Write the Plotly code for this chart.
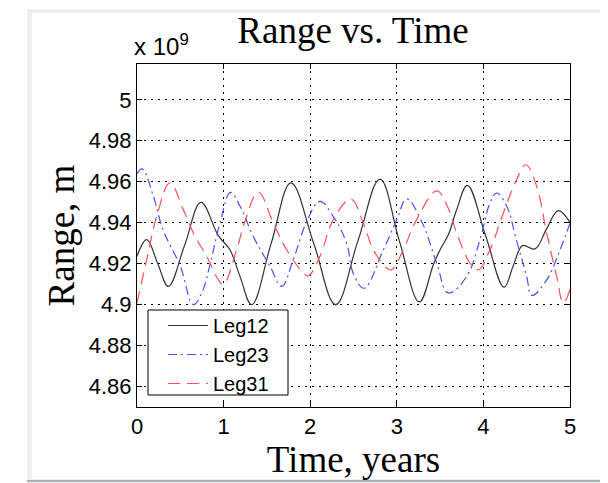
import plotly.graph_objects as go

# ---- data (range in units of 1e9 m, time in years) ----
t_leg12 = [0, 0.112, 0.24, 0.362, 0.55, 0.739, 0.939, 1.073, 1.189, 1.324, 1.55, 1.778,
           2.04, 2.294, 2.55, 2.806, 3.03, 3.26, 3.422, 3.50, 3.595, 3.691, 3.815, 4.03,
           4.238, 4.345, 4.452, 4.596, 4.73, 4.865, 5.0]
r_leg12 = [4.9236, 4.9317, 4.920, 4.9089, 4.929, 4.9499, 4.9337, 4.9268, 4.9138, 4.900, 4.930, 4.9594,
           4.930, 4.900, 4.931, 4.9613, 4.931, 4.9013, 4.9195, 4.9268, 4.9341, 4.9463, 4.9582, 4.933,
           4.9085, 4.919, 4.9288, 4.9272, 4.937, 4.9459, 4.9401]

t_leg23 = [0, 0.06, 0.19, 0.30, 0.50, 0.65, 0.747, 0.843, 0.958, 1.08, 1.19, 1.343, 1.536, 1.67,
           1.805, 1.96, 2.11, 2.267, 2.42, 2.50, 2.62, 2.845, 3.0, 3.114, 3.287, 3.46, 3.595, 3.807,
           3.96, 4.076, 4.153, 4.27, 4.38, 4.50, 4.558, 4.73, 4.885, 5.0]
r_leg23 = [4.964, 4.9663, 4.9528, 4.9366, 4.9187, 4.900, 4.9057, 4.9195, 4.9398, 4.9548, 4.948, 4.9333, 4.9187, 4.9089,
           4.922, 4.9406, 4.9504, 4.943, 4.930, 4.915, 4.908, 4.9268, 4.9415, 4.9516, 4.9406, 4.9203, 4.9057, 4.9138,
           4.9317, 4.9496, 4.9545, 4.948, 4.9317, 4.9138, 4.9045, 4.912, 4.9268, 4.9398]

t_leg31 = [0, 0.112, 0.227, 0.381, 0.535, 0.67, 0.805, 0.939, 0.997, 1.15, 1.247, 1.40, 1.574,
           1.728, 1.92, 1.978, 2.113, 2.267, 2.47, 2.613, 2.729, 2.883, 2.94, 3.075, 3.229, 3.46,
           3.576, 3.691, 3.845, 3.94, 4.076, 4.23, 4.383, 4.49, 4.615, 4.73, 4.846, 4.923, 5.0]
r_leg31 = [4.9008, 4.922, 4.943, 4.9594, 4.9463, 4.9333, 4.9236, 4.9122, 4.9098, 4.9268, 4.9406, 4.9550, 4.9398,
           4.9268, 4.9155, 4.9141, 4.9236, 4.9415, 4.9515, 4.9398, 4.9268, 4.9179, 4.917, 4.9268, 4.9415, 4.9555,
           4.9488, 4.935, 4.9203, 4.917, 4.9268, 4.9447, 4.961, 4.9683, 4.9577, 4.935, 4.9138, 4.9008, 4.9073]

x_ticks = [0, 1, 2, 3, 4, 5]
y_ticks = [4.86, 4.88, 4.90, 4.92, 4.94, 4.96, 4.98, 5.00]
y_tick_labels = ["4.86", "4.88", "4.9", "4.92", "4.94", "4.96", "4.98", "5"]

# the page body adds an 8px offset, so the figure is made 8px smaller
OFF = 8
W, H = 608 - OFF, 483 - OFF
PLOT_L, PLOT_R, PLOT_T, PLOT_B = 137, 570, 64, 407   # absolute page pixels
L, T = PLOT_L - OFF, PLOT_T - OFF
R, B = (W + OFF) - PLOT_R, (H + OFF) - PLOT_B
PW, PH = PLOT_R - PLOT_L, PLOT_B - PLOT_T


def px(xa):
    return (xa - PLOT_L) / PW


def py(ya):
    return (PLOT_B - ya) / PH


fig = go.Figure()
fig.add_trace(go.Scatter(x=t_leg12, y=r_leg12, mode="lines", name="Leg12",
                         line=dict(color="#333333", width=1.2, shape="spline", smoothing=1.1)))
fig.add_trace(go.Scatter(x=t_leg23, y=r_leg23, mode="lines", name="Leg23",
                         line=dict(color="#4f4fff", width=1.2, shape="spline", smoothing=1.1,
                                   dash="9px,4px,2px,4px")))
fig.add_trace(go.Scatter(x=t_leg31, y=r_leg31, mode="lines", name="Leg31",
                         line=dict(color="#ff5050", width=1.2, shape="spline", smoothing=1.1,
                                   dash="12px,7px")))

serif = "Liberation Serif, Times New Roman, serif"
sans = "Liberation Sans, Arial, Helvetica, sans-serif"

axis_common = dict(showline=True, linecolor="black", linewidth=1, mirror="ticks",
                   ticks="inside", ticklen=5, tickcolor="black",
                   showgrid=True, gridcolor="black", gridwidth=1, griddash="2px,5px",
                   zeroline=False, tickfont=dict(family=sans, size=22, color="black"))

fig.update_xaxes(range=[0, 5], tickvals=x_ticks, **axis_common,
                 title=dict(text="Time, years", font=dict(family=serif, size=37, color="black"),
                            standoff=0))
fig.update_yaxes(range=[4.85, 5.0175], tickvals=y_ticks, ticktext=y_tick_labels, **axis_common,
                 title=dict(text="Range, m", font=dict(family=serif, size=37, color="black"),
                            standoff=2))

shapes = [
    # page frame
    dict(type="rect", xref="paper", yref="paper", x0=px(27), x1=px(620), y0=py(9), y1=py(490),
         fillcolor="#edf1f1", line=dict(width=0), layer="below"),
    dict(type="rect", xref="paper", yref="paper", x0=px(32), x1=px(620), y0=py(13), y1=py(479),
         fillcolor="white", line=dict(width=0), layer="below"),
    dict(type="line", xref="paper", yref="paper", x0=px(27), x1=px(620), y0=py(481), y1=py(481),
         line=dict(color="#a8b0b0", width=2), layer="below"),
    # legend box
    dict(type="rect", xref="paper", yref="paper", x0=px(148), x1=px(288), y0=py(310), y1=py(395),
         fillcolor="white", line=dict(color="black", width=1), layer="above"),
]

fig.update_layout(
    width=W, height=H,
    margin=dict(l=L, r=R, t=T, b=B),
    paper_bgcolor="white", plot_bgcolor="white",
    title=dict(text="Range vs. Time", font=dict(family=serif, size=37, color="black"),
               x=px(353), xref="paper", xanchor="center", y=1 - 22.5 / H, yanchor="middle"),
    legend=dict(x=px(163), y=py(306), xanchor="left", yanchor="top",
                bgcolor="rgba(0,0,0,0)", borderwidth=0,
                font=dict(family=sans, size=20, color="black"), itemwidth=40,
                tracegroupgap=0),
    shapes=shapes,
    annotations=[dict(text="x 10<sup>9</sup>", xref="paper", yref="paper", x=px(132), y=py(62),
                      xanchor="left", yanchor="bottom", showarrow=False,
                      font=dict(family=sans, size=24, color="black"))],
)

fig.write_html("out.html")
